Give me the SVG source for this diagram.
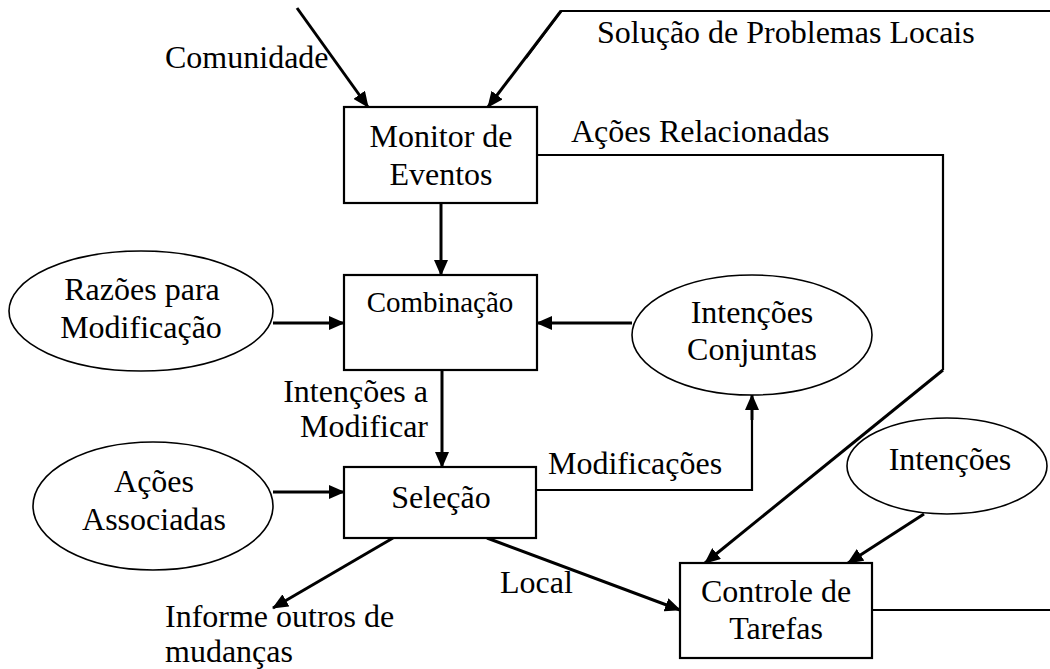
<svg xmlns="http://www.w3.org/2000/svg" width="1050" height="669" viewBox="0 0 1050 669">
<style>
text{font-family:"Liberation Serif","Times New Roman",serif;font-size:32px;fill:#000}
.c{text-anchor:middle}
.box{fill:#fff;stroke:#000;stroke-width:2.2}
.ell{fill:#fff;stroke:#000;stroke-width:1.6}
.ln{fill:none;stroke:#000;stroke-width:2.2}
.ar{fill:none;stroke:#000;stroke-width:3;marker-end:url(#ah)}
</style>
<defs>
<marker id="ah" markerUnits="userSpaceOnUse" markerWidth="16" markerHeight="14" refX="15" refY="7" orient="auto">
<path d="M0,0 L16,7 L0,14 z" fill="#000"/>
</marker>
</defs>
<rect width="1050" height="669" fill="#fff"/>
<g id="connectors">
<line class="ar" x1="297" y1="8" x2="368" y2="107"/>
<polyline class="ln" points="1050,11 561,11 526,58"/>
<line class="ar" x1="561" y1="11" x2="488" y2="107"/>
<polyline class="ln" points="537,155 943,155 943,370"/>
<line class="ar" x1="943" y1="370" x2="705" y2="563"/>
<line class="ar" x1="441" y1="203" x2="441" y2="275"/>
<line class="ar" x1="273" y1="323" x2="344" y2="323"/>
<line class="ar" x1="632" y1="323" x2="537" y2="323"/>
<line class="ar" x1="442" y1="370" x2="442" y2="467"/>
<line class="ar" x1="273" y1="492" x2="344" y2="492"/>
<polyline class="ln" points="537,490 752,490 752,420"/>
<line class="ar" x1="752" y1="420" x2="752" y2="395"/>
<line class="ar" x1="393" y1="538" x2="273" y2="608"/>
<line class="ar" x1="487" y1="538" x2="680" y2="610"/>
<line class="ar" x1="924" y1="514" x2="848" y2="563"/>
<line class="ln" x1="872" y1="610" x2="1050" y2="610"/>
</g>
<g id="lbl-comunidade"><text x="165" y="68">Comunidade</text></g>
<g id="lbl-solucao"><text x="597" y="43">Solução de Problemas Locais</text></g>
<g id="lbl-acoes-relacionadas"><text x="571" y="142">Ações Relacionadas</text></g>
<g id="lbl-intencoes-a"><text x="428" y="402" text-anchor="end">Intenções a</text><text x="428" y="437" text-anchor="end">Modificar</text></g>
<g id="lbl-modificacoes"><text x="548" y="474">Modificações</text></g>
<g id="lbl-local"><text x="500" y="593">Local</text></g>
<g id="lbl-informe"><text x="165" y="627">Informe outros de</text><text x="165" y="662">mudanças</text></g>
<g id="monitor">
<rect class="box" x="344" y="107" width="193" height="96"/>
<text class="c" x="441" y="147">Monitor de</text>
<text class="c" x="441" y="185">Eventos</text>
</g>
<g id="combinacao">
<rect class="box" x="344" y="275" width="193" height="95"/>
<text class="c" x="440" y="312" style="font-size:29px">Combinação</text>
</g>
<g id="razoes">
<ellipse class="ell" cx="141" cy="311" rx="132" ry="60"/>
<text class="c" x="142" y="300">Razões para</text>
<text class="c" x="141" y="338">Modificação</text>
</g>
<g id="intencoes-conjuntas">
<ellipse class="ell" cx="752" cy="335" rx="120" ry="60"/>
<text class="c" x="752" y="323">Intenções</text>
<text class="c" x="752" y="360">Conjuntas</text>
</g>
<g id="selecao">
<rect class="box" x="344" y="467" width="192" height="71"/>
<text class="c" x="441" y="508">Seleção</text>
</g>
<g id="acoes-associadas">
<ellipse class="ell" cx="153" cy="506" rx="120" ry="64"/>
<text class="c" x="154" y="492">Ações</text>
<text class="c" x="154" y="530">Associadas</text>
</g>
<g id="intencoes">
<ellipse class="ell" cx="947" cy="466" rx="100" ry="48"/>
<text class="c" x="950" y="470">Intenções</text>
</g>
<g id="controle">
<rect class="box" x="680" y="563" width="192" height="95"/>
<text class="c" x="776" y="602">Controle de</text>
<text class="c" x="776" y="639">Tarefas</text>
</g>
</svg>
